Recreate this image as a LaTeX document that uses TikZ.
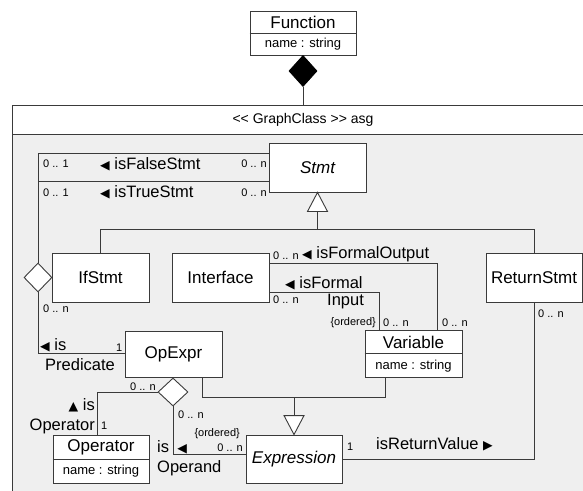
\documentclass[tikz,border=0pt]{standalone}
\usepackage{fontspec}
\setmainfont{Liberation Sans}
\newfontfamily\symf{DejaVu Sans}
\usetikzlibrary{shapes.geometric,calc}
\definecolor{lc}{HTML}{3A3A3A}
\definecolor{bg}{HTML}{EFEFEF}
\newcommand{\lt}{{\symf\fontsize{12.5}{12}\selectfont ◀}}
\newcommand{\rt}{{\symf\fontsize{12.5}{12}\selectfont ▶}}
\newcommand{\up}{{\symf\fontsize{12.5}{12}\selectfont ▲}}
\begin{document}
\begin{tikzpicture}[x=1pt,y=-1pt,
  conn/.style={draw=lc, line width=0.9pt},
  cls/.style={draw=lc, fill=white, line width=0.9pt, inner sep=0pt},
  cname/.style={inner sep=0pt, font=\fontsize{17}{17}\selectfont},
  attr/.style={inner sep=0pt, font=\fontsize{13}{13}\selectfont},
  mult/.style={inner sep=0pt, font=\fontsize{11}{11}\selectfont},
  lab/.style={inner sep=0pt, font=\fontsize{16.5}{18}\selectfont},
  hdrtext/.style={inner sep=0pt, font=\fontsize{14}{14}\selectfont},
  hollowd/.style={shape=diamond, draw=lc, fill=white, line width=0.9pt, inner sep=0pt},
  filledd/.style={shape=diamond, draw=black, fill=black, line width=0.9pt, inner sep=0pt}]
\useasboundingbox (0,0) rectangle (583,490);
\fill[white] (0,0) rectangle (583,490);
% graph class frame
\begin{scope}
\clip (0,0) rectangle (583,490);
\draw[draw=lc, fill=bg, line width=0.9pt] (12,105) rectangle (620,520);
\draw[draw=lc, fill=white, line width=0.9pt] (12,105) rectangle (620,134);
\end{scope}
\node[hdrtext] (hdr) at (303,119.5) {{<}{<} GraphClass {>}{>} asg};
\coordinate (gtop) at (303,105);

% Function
\node[cls, minimum width=106, minimum height=44] (fun) at (303,33) {};
\draw[conn] (fun.west) -- (fun.east);
\node[cname] (funn) at (303,22) {Function};
\node[attr] (funa) at (303,44) {name : string};
\node[filledd, minimum width=28, minimum height=31] (fd) at (303,71) {};
\draw[conn] (fd.south) -- (gtop);

% classes
\node[cls, minimum width=97, minimum height=49, font=\fontsize{17}{17}\selectfont\itshape] (stmt) at (317.5,167.5) {Stmt};
\node[cls, minimum width=97, minimum height=49, font=\fontsize{17}{17}\selectfont] (ifs) at (100.5,277.5) {IfStmt};
\node[cls, minimum width=97, minimum height=49, font=\fontsize{17}{17}\selectfont] (iface) at (220.5,277.5) {Interface};
\node[cls, minimum width=96, minimum height=49, font=\fontsize{17}{17}\selectfont] (ret) at (534,277.5) {ReturnStmt};
\node[cls, minimum width=97, minimum height=46, font=\fontsize{17}{17}\selectfont] (opx) at (173.5,354) {OpExpr};
\node[cls, minimum width=96, minimum height=48, font=\fontsize{17}{17}\selectfont\itshape] (expr) at (294,459) {Expression};

\node[cls, minimum width=97, minimum height=47] (var) at (413.5,353.5) {};
\draw[conn] (var.west) -- (var.east);
\node[cname] (varn) at (413.5,342) {Variable};
\node[attr] (vara) at (413.5,366) {name : string};

\node[cls, minimum width=96, minimum height=48] (oper) at (101,459) {};
\draw[conn] (oper.west) -- (oper.east);
\node[cname] (opern) at (101,447) {Operator};
\node[attr] (opera) at (101,471) {name : string};

% diamonds
\node[hollowd, minimum width=28, minimum height=29] (d1) at (38,277.5) {};
\node[hollowd, minimum width=30, minimum height=28] (d2) at (173,392) {};

% generalization to Stmt
\draw[conn, fill=white] (stmt.south) -- ++(-10,19) -- ++(20,0) -- cycle;
\coordinate (t1b) at ($(stmt.south)+(0,19)$);
\coordinate (g1) at (317.5,229);
\draw[conn] (t1b) -- (g1);
\draw[conn] (ifs.north) |- (g1);
\draw[conn] (ret.north) |- (g1);

% generalization to Expression
\draw[conn, fill=white] (expr.north) -- ++(-10,-19) -- ++(20,0) -- cycle;
\coordinate (t2b) at ($(expr.north)+(0,-19)$);
\coordinate (g2) at (294,397);
\draw[conn] (t2b) -- (g2);
\draw[conn] ($(opx.south)+(28.5,0)$) |- (g2);
\draw[conn] ($(var.south)+(-28.5,0)$) |- (g2);

% isFalseStmt / isTrueStmt
\coordinate (jt) at (38,181.7);
\draw[conn] (d1.north) |- (stmt.west |- 0,153);
\draw[conn] (jt) -- (stmt.west |- jt);
\node[mult, anchor=west] (m1) at (43,164) {0 .. 1};
\node[lab, anchor=west] (l1) at (100,164) {\lt\ isFalseStmt};
\node[mult, anchor=east] (m2) at (267,164) {0 .. n};
\node[mult, anchor=west] (m3) at (43,192.5) {0 .. 1};
\node[lab, anchor=west] (l2) at (100,192.5) {\lt\ isTrueStmt};
\node[mult, anchor=east] (m4) at (267,192.5) {0 .. n};

% isPredicate
\draw[conn] (d1.south) |- (opx.west |- 0,353);
\node[mult, anchor=west] (m5) at (43,309) {0 .. n};
\node[lab, anchor=west] (l3) at (40,345) {\lt\ is};
\node[lab, anchor=west] (l4) at (45,365) {Predicate};
\node[mult, anchor=west] (m6) at (116,348) {1};

% isFormalOutput / isFormalInput
\draw[conn] (iface.east |- 0,263) -| ($(var.north east)+(-25,0)$);
\draw[conn] (iface.east |- 0,292) -| ($(var.north west)+(15,0)$);
\node[mult, anchor=west] (m7) at (273,256) {0 .. n};
\node[lab, anchor=west] (l5) at (302,254) {\lt\ isFormalOutput};
\node[lab, anchor=west] (l6) at (285,283) {\lt\ isFormal};
\node[lab, anchor=west] (l7) at (327,302) {Input};
\node[mult, anchor=west] (m8) at (273,300) {0 .. n};
\node[mult, anchor=east] (m9) at (376,323) {\{ordered\}};
\node[mult, anchor=west] (m10) at (383,323) {0 .. n};
\node[mult, anchor=west] (m11) at (442,323) {0 .. n};

% isOperator
\draw[conn] (d2.west) -| ($(oper.north)+(-4,0)$);
\node[mult, anchor=west] (m12) at (130,387) {0 .. n};
\node[lab, anchor=east] (l8) at (95,405) {\up\ is};
\node[lab, anchor=east] (l9) at (95,426) {Operator};
\node[mult, anchor=west] (m13) at (101,426) {1};

% isOperand
\draw[conn] (d2.south) |- ($(expr.west)+(0,-5)$);
\node[mult, anchor=west] (m14) at (178,415) {0 .. n};
\node[mult, anchor=east] (m15) at (240,434) {\{ordered\}};
\node[mult, anchor=east] (m16) at (243,448) {0 .. n};
\node[lab, anchor=west] (l10) at (157,447) {is\enspace\lt};
\node[lab, anchor=west] (l11) at (157,468) {Operand};

% isReturnValue
\draw[conn] (expr.east) -| (ret.south);
\node[mult, anchor=west] (m17) at (347,447) {1};
\node[lab, anchor=west] (l12) at (376,444) {isReturnValue \rt};
\node[mult, anchor=west] (m18) at (538,314) {0 .. n};
\end{tikzpicture}
\end{document}
